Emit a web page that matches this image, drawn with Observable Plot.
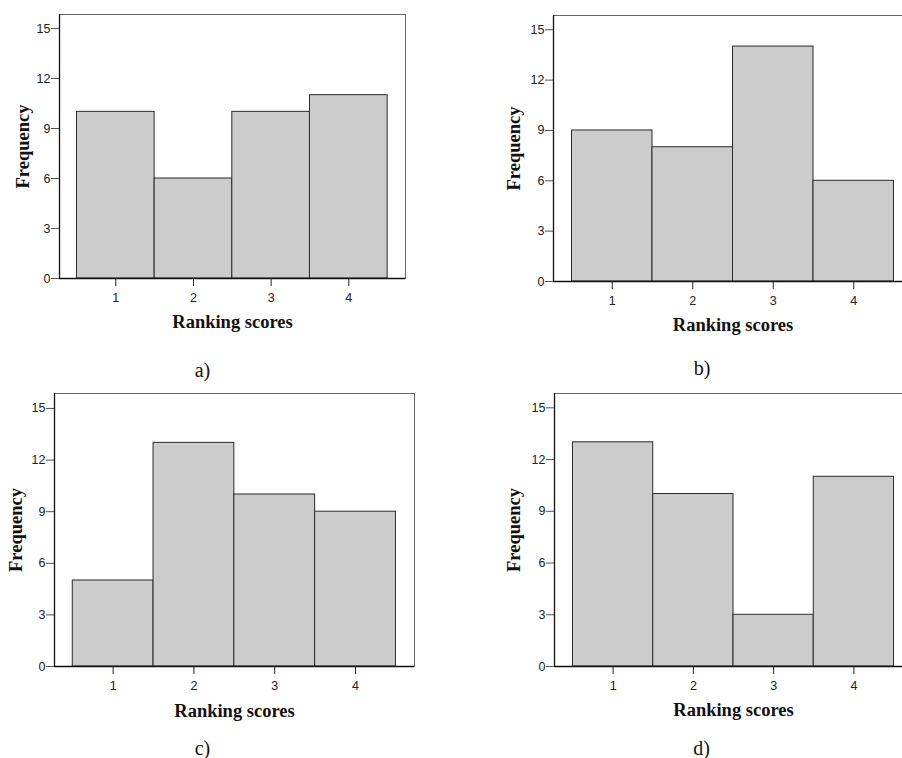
<!DOCTYPE html>
<html><head><meta charset="utf-8">
<script src="https://cdn.jsdelivr.net/npm/d3@7"></script>
<script src="https://cdn.jsdelivr.net/npm/@observablehq/plot@0.6"></script>
<style>
body{margin:0;background:#fff}
#wrap{position:relative;width:902px;height:758px;overflow:hidden;background:#fff}
.panel{position:absolute}
</style></head><body><div id="wrap"></div>
<script>
const scores = [1, 2, 3, 4];
const freqA = [10, 6, 10, 11];
const freqB = [9, 8, 14, 6];
const freqC = [5, 13, 10, 9];
const freqD = [13, 10, 3, 11];
const yTicks = [0, 3, 6, 9, 12, 15];
const panelLabels = ["a)", "b)", "c)", "d)"];
const xLabel = "Ranking scores";
const yLabel = "Frequency";

const layouts = [
  {freq: freqA, left: 0,   top: 0,   width: 451, height: 379, mL: 59,  mR: 46, mT: 14, mB: 101, xDom: [0.275, 4.73], yMax: 15.84, yDx: -36, xDy: 44, capDx: -30, capDy: 92},
  {freq: freqB, left: 451, top: 0,   width: 470, height: 379, mL: 102, mR: 9,  mT: 15, mB: 98,  xDom: [0.27, 4.73],  yMax: 15.85, yDx: -39, xDy: 44, capDx: -31, capDy: 87},
  {freq: freqC, left: 0,   top: 379, width: 451, height: 379, mL: 54,  mR: 37, mT: 14, mB: 92,  xDom: [0.274, 4.73], yMax: 15.87, yDx: -38, xDy: 45, capDx: -32, capDy: 82},
  {freq: freqD, left: 451, top: 379, width: 470, height: 379, mL: 103, mR: 9,  mT: 14, mB: 92,  xDom: [0.27, 4.73],  yMax: 15.83, yDx: -40, xDy: 44, capDx: -32, capDy: 82}
];

const serif = "Liberation Serif, Times New Roman, serif";
const wrap = document.getElementById("wrap");
layouts.forEach((L, i) => {
  const data = scores.map((s, j) => ({score: s, freq: L.freq[j]}));
  const chart = Plot.plot({
    width: L.width,
    height: L.height,
    marginLeft: L.mL, marginRight: L.mR, marginTop: L.mT, marginBottom: L.mB,
    style: {fontFamily: "Liberation Sans, Arial, sans-serif", fontSize: "12.5px", color: "#222", background: "transparent", overflow: "visible"},
    x: {domain: L.xDom, label: null},
    y: {domain: [0, L.yMax], label: null},
    marks: [
      Plot.frame({stroke: "#666", strokeWidth: 1}),
      Plot.rectY(data, {x1: d => d.score - 0.5, x2: d => d.score + 0.5, y1: 0, y2: "freq", fill: "#cccccc", stroke: "#2a2a2a", strokeWidth: 1}),
      Plot.ruleY([0], {stroke: "#111", strokeWidth: 1.3}),
      Plot.ruleX([L.xDom[0]], {stroke: "#111", strokeWidth: 1.3}),
      Plot.axisY({ticks: yTicks, tickSize: 8, tickPadding: 1, tickFormat: d => d, fontSize: 12.5, stroke: "#555", label: null}),
      Plot.axisX({ticks: scores, tickSize: 8, tickPadding: 7, tickFormat: d => d, fontSize: 12.5, stroke: "#222", label: null}),
      Plot.text([xLabel], {text: d => d, frameAnchor: "bottom", dy: L.xDy, textAnchor: "middle", lineAnchor: "middle", fontFamily: serif, fontWeight: "bold", fontSize: 18.5, fill: "#111"}),
      Plot.text([yLabel], {text: d => d, frameAnchor: "left", dx: L.yDx, rotate: -90, textAnchor: "middle", lineAnchor: "middle", fontFamily: serif, fontWeight: "bold", fontSize: 18.5, fill: "#111"}),
      Plot.text([panelLabels[i]], {text: d => d, frameAnchor: "bottom", dx: L.capDx, dy: L.capDy, textAnchor: "middle", lineAnchor: "middle", fontFamily: serif, fontSize: 20, fill: "#111"})
    ]
  });
  d3.select(chart).selectAll("text")
    .filter(function() { return /^\d+$/.test(this.textContent.trim()); })
    .style("font-size", "12.5px")
    .style("font-family", "Liberation Sans, Arial, sans-serif")
    .style("fill", "#222");
  chart.classList.add("panel");
  chart.style.left = L.left + "px";
  chart.style.top = L.top + "px";
  wrap.appendChild(chart);
});
</script>
</body></html>
